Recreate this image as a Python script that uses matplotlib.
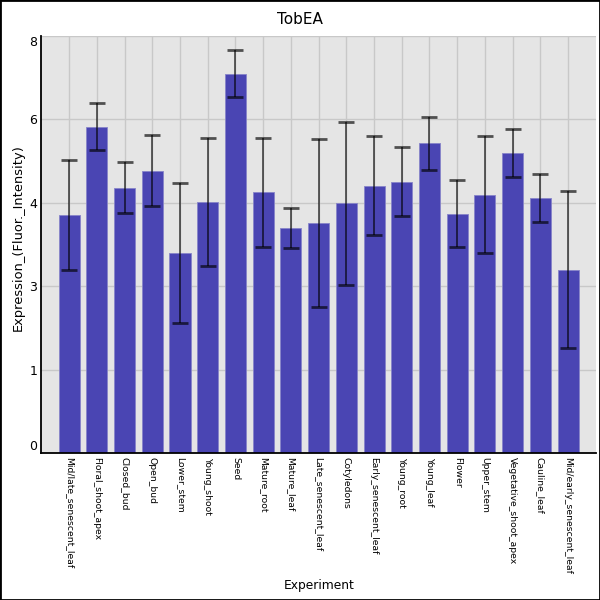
import matplotlib
matplotlib.use("Agg")
import matplotlib.pyplot as plt
import matplotlib.patches as patches
import numpy as np

categories = ["Mid/late_senescent_leaf", "Floral_shoot_apex", "Closed_bud", "Open_bud",
              "Lower_stem", "Young_shoot", "Seed", "Mature_root", "Mature_leaf",
              "Late_senescent_leaf", "Cotyledons", "Early_senescent_leaf", "Young_root",
              "Young_leaf", "Flower", "Upper_stem", "Vegetative_shoot_apex",
              "Cauline_leaf", "Mid/early_senescent_leaf"]
values = [4.57, 6.26, 5.09, 5.42, 3.84, 4.82, 7.28, 5.00, 4.32, 4.42, 4.79, 5.13,
          5.21, 5.94, 4.59, 4.96, 5.76, 4.90, 3.52]
errors = [1.05, 0.45, 0.49, 0.68, 1.34, 1.22, 0.45, 1.05, 0.39, 1.61, 1.56, 0.95,
          0.66, 0.51, 0.64, 1.12, 0.46, 0.46, 1.50]
y_ticks = [0, 1.6, 3.2, 4.8, 6.4, 8.0]
y_tick_labels = ["0", "1", "3", "4", "6", "8"]

fig = plt.figure(figsize=(6, 6), dpi=100)
ax = fig.add_axes([0.069, 0.2445, 0.924, 0.6955])
ax.set_facecolor("#e5e5e5")
x = np.arange(len(categories))
ax.bar(x, values, width=0.76, color="#4a45b3", edgecolor="#8784c9", linewidth=0.6, zorder=2)
eb = ax.errorbar(x, values, yerr=errors, fmt="none", ecolor=(0, 0, 0, 0.65), elinewidth=1.3,
                 capsize=5.8, capthick=2, zorder=3)
for cap in eb[1]:
    cap.set_color("black")
ax.set_xlim(-1, len(categories))
ax.set_ylim(0, 8)
ax.set_yticks(y_ticks)
ax.set_yticklabels(y_tick_labels, fontsize=9)
lbls = ax.get_yticklabels()
lbls[0].set_va("bottom")
lbls[-1].set_va("top")
ax.set_xticks(x)
ax.set_xticklabels(categories, rotation=270, fontsize=6.7, va="top", ha="center")
ax.tick_params(axis="both", length=0, pad=3)
ax.grid(True, color="#c8c8c8", linewidth=1.0, zorder=0)
ax.set_axisbelow(True)
for s in ["top", "right"]:
    ax.spines[s].set_visible(False)
for s in ["left", "bottom"]:
    ax.spines[s].set_color("black")
    ax.spines[s].set_linewidth(1.3)

fig.text(0.5, 1 - 20 / 600, "TobEA", ha="center", va="center", fontsize=11)
fig.text(319 / 600, 1 - 585 / 600, "Experiment", ha="center", va="center", fontsize=8.8)
fig.text(18 / 600, 1 - 238 / 600, "Expression_(Fluor._Intensity)", ha="center", va="center",
         rotation=90, fontsize=9.4)

fig.patches.append(patches.Rectangle((0, 0), 1, 1, transform=fig.transFigure, fill=False,
                                     edgecolor="black", linewidth=2, zorder=10))
fig.savefig("out.png", dpi=100)
